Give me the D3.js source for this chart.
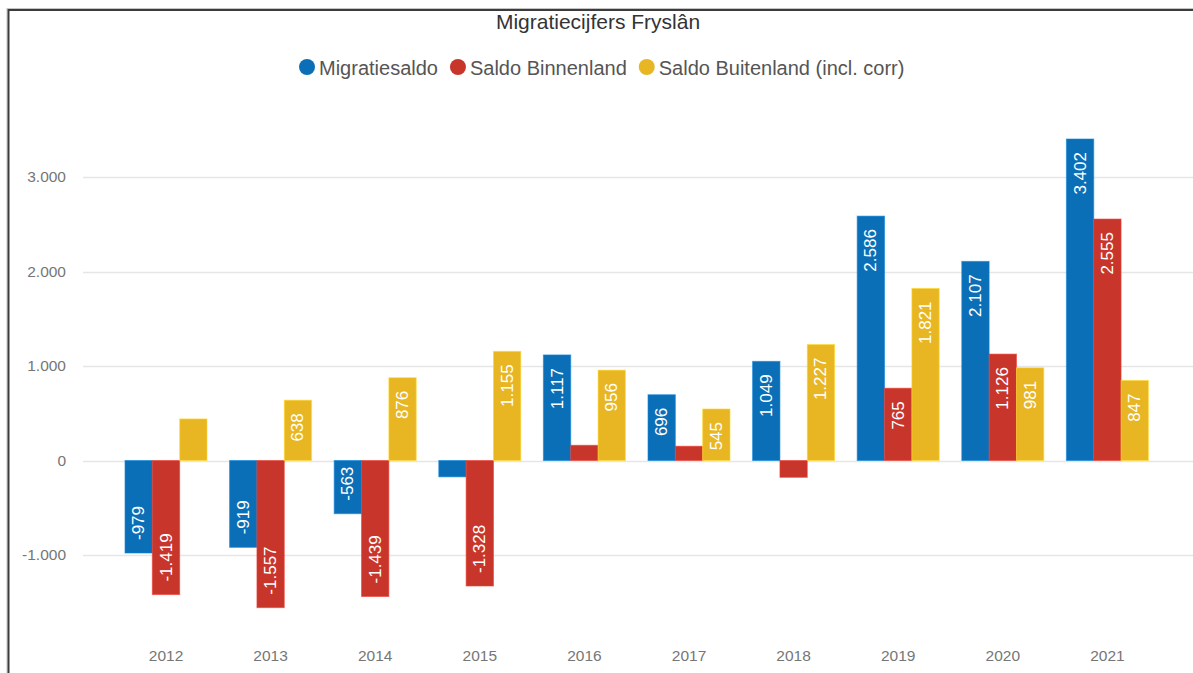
<!DOCTYPE html>
<html>
<head>
<meta charset="utf-8">
<script src="https://cdn.jsdelivr.net/npm/d3@7"></script>
<style>
  html, body { margin: 0; padding: 0; background: #fff; }
  svg { display: block; font-family: "Liberation Sans", Arial, sans-serif; }
</style>
</head>
<body>
<svg id="chart" width="1193" height="673"></svg>
<script>
// ---- data ----
const title = "Migratiecijfers Fryslân";
const years = ["2012", "2013", "2014", "2015", "2016", "2017", "2018", "2019", "2020", "2021"];
const seriesNames = ["Migratiesaldo", "Saldo Binnenland", "Saldo Buitenland (incl. corr)"];
const seriesColors = ["#0b6fb8", "#c8352b", "#e8b623"];
const migratiesaldo = [-979, -919, -563, -173, 1117, 696, 1049, 2586, 2107, 3402];
const saldoBinnenland = [-1419, -1557, -1439, -1328, 161, 151, -178, 765, 1126, 2555];
const saldoBuitenland = [440, 638, 876, 1155, 956, 545, 1227, 1821, 981, 847];
const yTicks = [-1000, 0, 1000, 2000, 3000];

const seriesValues = [migratiesaldo, saldoBinnenland, saldoBuitenland];

const locale = d3.formatLocale({ decimal: ",", thousands: ".", grouping: [3], currency: ["€", ""], minus: "-" });
const fmt = locale.format(",d");

const svg = d3.select("#chart");

// frame
svg.append("rect").attr("x", 7).attr("y", 8.5).attr("width", 1300).attr("height", 800)
  .attr("fill", "none").attr("stroke", "#c4c4c4").attr("stroke-width", 1);
svg.append("rect").attr("x", 8.5).attr("y", 10).attr("width", 1300).attr("height", 800)
  .attr("fill", "none").attr("stroke", "#3c3c3c").attr("stroke-width", 2);

// scales
const x = d3.scaleBand().domain(years).range([113.7, 1159.7]).paddingInner(0.216).paddingOuter(0.108);
const xs = d3.scaleBand().domain(d3.range(seriesNames.length)).range([0, x.bandwidth()]).padding(0);
const y = d3.scaleLinear().domain([-1000, 3000]).range([555, 177]);

// gridlines
const grid = svg.append("g");
grid.selectAll("line").data(yTicks).join("line")
  .attr("x1", 83).attr("x2", 1193)
  .attr("y1", d => Math.round(y(d)) + 0.5).attr("y2", d => Math.round(y(d)) + 0.5)
  .attr("stroke", "#e6e6e6").attr("stroke-width", 1.5);

// y axis labels
const yAxis = d3.axisLeft(y).tickValues(yTicks).tickFormat(fmt).tickSize(0).tickPadding(0);
const gy = svg.append("g").attr("transform", "translate(66,0)").call(yAxis);
gy.select(".domain").remove();
gy.selectAll("text").attr("fill", "#767676").style("font-size", "15.5px")
  .style("font-family", "'Liberation Sans', Arial, sans-serif");

// x axis labels
const xAxis = d3.axisBottom(x).tickSize(0).tickPadding(0);
const gx = svg.append("g").attr("transform", "translate(0,650)").call(xAxis);
gx.select(".domain").remove();
gx.selectAll("text").attr("fill", "#767676").style("font-size", "15.5px")
  .style("font-family", "'Liberation Sans', Arial, sans-serif");

// bars
const barData = [];
years.forEach((yr, i) => {
  seriesValues.forEach((vals, s) => {
    barData.push({ year: yr, s: s, v: vals[i] });
  });
});

const bars = svg.append("g");
bars.selectAll("rect").data(barData).join("rect")
  .attr("x", d => x(d.year) + xs(d.s))
  .attr("width", xs.bandwidth())
  .attr("y", d => Math.min(y(d.v), y(0)))
  .attr("height", d => Math.abs(y(d.v) - y(0)))
  .attr("fill", d => seriesColors[d.s])
  .attr("stroke", d => d3.color(seriesColors[d.s]).brighter(0.5))
  .attr("stroke-opacity", 0.6)
  .attr("stroke-width", 1);

// bar labels (inside end, rotated)
const pad = 13;
const labels = svg.append("g");
labels.selectAll("text").data(barData).join("text")
  .attr("transform", d => {
    const cx = x(d.year) + xs(d.s) + xs.bandwidth() / 2;
    const cy = d.v >= 0 ? y(d.v) + pad : y(d.v) - pad;
    return `translate(${cx},${cy}) rotate(-90)`;
  })
  .attr("text-anchor", d => d.v >= 0 ? "end" : "start")
  .attr("dominant-baseline", "central")
  .attr("fill", "#ffffff")
  .style("font-size", "17px")
  .text(d => fmt(d.v))
  .each(function(d) {
    const len = this.getComputedTextLength();
    const barLen = Math.abs(y(d.v) - y(0));
    if (len + 16 > barLen) d3.select(this).remove();
  });

// title
svg.append("text").attr("x", 598).attr("y", 29).attr("text-anchor", "middle")
  .attr("fill", "#333").style("font-size", "21px").text(title);

// legend
const legend = svg.append("g");
let lx = 299;
const ly = 67;
seriesNames.forEach((name, i) => {
  legend.append("circle").attr("cx", lx + 8).attr("cy", ly).attr("r", 8).attr("fill", seriesColors[i]);
  const t = legend.append("text").attr("x", lx + 20).attr("y", ly + 7.5)
    .attr("fill", "#555").style("font-size", "20px").text(name);
  lx += 20 + t.node().getComputedTextLength() + 12;
});
</script>
</body>
</html>
